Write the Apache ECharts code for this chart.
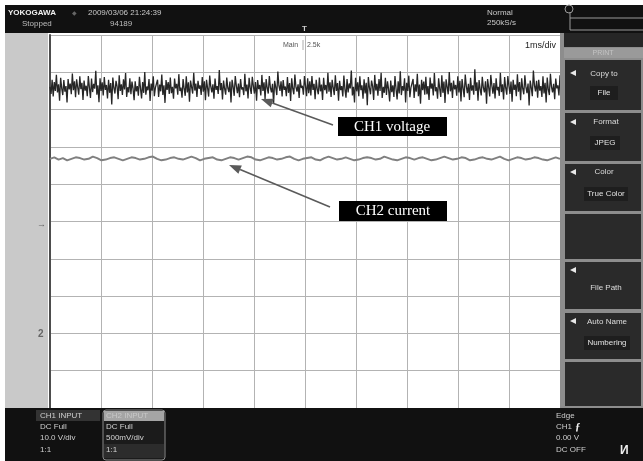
<!DOCTYPE html>
<html>
<head>
<meta charset="utf-8">
<script src="https://cdn.jsdelivr.net/npm/echarts@6.0.0/dist/echarts.min.js"></script>
<style>
html,body{margin:0;padding:0;background:#fff;}
#c{width:643px;height:461px;}
</style>
</head>
<body>
<div id="c"></div>
<script>
// Time axis: 1 ms/div, 10 divisions, trigger at centre
var timeTicks = [-5,-4,-3,-2,-1,0,1,2,3,4,5];
var ch1Voltage = [
36.1,34.2,38.0,33.5,37.4,35.0,39.3,34.6,36.8,32.4,38.5,35.7,33.9,37.9,34.8,36.3,31.9,38.2,35.4,37.0,
34.1,39.7,35.2,37.6,33.3,38.1,36.0,34.0,38.9,35.5,37.2,32.6,37.8,35.1,36.4,33.6,39.0,35.9,33.1,38.3,
34.7,36.9,35.6,40.4,34.0,36.5,32.0,38.4,35.0,37.3,33.8,38.7,35.3,36.6,33.0,38.0,34.5,37.1,31.4,38.6,
35.8,34.3,37.7,36.2,32.8,39.2,35.0,36.8,33.9,38.1,35.4,39.8,33.4,36.0,34.6,38.4,34.1,37.5,35.6,32.5,
37.6,34.9,36.3,33.7,38.8,35.7,33.0,37.4,34.5,40.1,34.0,36.2,35.2,38.2,32.3,37.0,35.1,38.9,33.6,35.9,
35.5,38.0,33.4,36.7,34.9,39.4,33.9,36.5,31.8,37.9,35.3,37.4,34.2,38.6,34.4,36.1,32.9,38.3,35.7,36.9,
34.0,39.5,35.0,35.9,33.2,38.2,35.6,33.7,38.9,34.6,37.3,32.1,37.8,36.0,34.3,39.9,35.1,37.0,33.4,37.7,
35.6,36.5,33.9,38.7,34.8,37.6,32.5,38.0,35.8,33.5,39.1,36.2,34.6,36.8,32.9,38.3,35.3,36.3,34.2,40.6,
35.2,37.1,32.7,37.8,35.6,34.0,38.6,35.8,34.7,37.5,31.9,38.0,36.1,33.7,39.0,36.4,34.4,37.0,33.3,38.2,
35.4,36.0,33.9,39.6,34.9,36.7,33.0,38.5,35.9,34.2,38.8,36.3,34.3,37.4,32.4,37.9,35.5,36.6,33.8,39.3,
35.0,37.3,32.8,38.2,35.8,34.3,39.0,35.9,34.6,36.9,31.5,37.7,36.0,33.9,40.2,36.4,35.0,37.6,33.5,37.9,
35.3,36.2,33.6,38.7,34.5,37.1,32.3,38.4,35.6,34.1,39.4,36.0,34.8,36.8,33.1,38.1,35.8,36.4,34.0,39.0,
36.3,33.6,38.4,34.4,37.6,33.8,39.0,35.3,36.9,32.8,38.0,35.5,34.1,38.6,34.9,36.7,32.6,38.5,35.2,36.6,
34.3,39.9,34.8,37.3,33.4,38.0,35.8,33.9,39.2,35.0,37.1,32.4,37.7,35.2,36.3,33.5,39.1,35.5,33.2,38.2,
34.6,37.0,35.7,40.5,33.8,36.1,31.9,38.5,34.9,37.3,33.6,38.9,35.2,36.5,32.9,38.1,34.3,37.2,31.2,38.7,
35.9,34.1,37.8,36.3,32.6,39.3,35.1,36.9,33.7,38.2,35.0,39.9,33.1,36.1,34.5,38.5,33.9,37.6,35.4,32.2,
37.8,34.7,36.5,33.4,39.0,35.6,32.7,37.6,34.3,40.3,33.9,36.3,35.1,38.4,31.9,37.2,35.0,39.1,33.3,35.9,
35.6,38.2,33.1,36.8,34.8,39.6,33.6,36.7,31.6,38.0,35.2,37.5,34.0,38.8,34.1,36.3,32.6,38.6,35.6,37.0,
33.8,39.8,34.9,36.0,32.9,38.4,35.7,33.4,39.2,34.5,37.5,31.8,38.1,36.1,34.1,40.1,34.9,37.2,33.1,37.8,
35.4,36.6,33.7,38.9,34.6,37.7,32.2,38.2,35.7,33.3,39.4,36.3,34.4,36.9,32.6,38.5,35.1,36.5,34.0,40.8,
35.0,37.3,32.4,37.9,35.5,33.8,38.8,35.9,34.6,37.6,31.6,38.2,36.0,33.5,39.3,36.5,34.3,37.1,33.0,38.4,
35.2,36.1,33.7,39.9,34.7,36.8,32.7,38.7,35.8,34.0,39.0,36.4,34.2,37.5,32.1,38.0,35.3,36.7,33.6,39.5,
34.8,37.4,32.5,38.4,35.6,34.1,39.2,36.0,34.4,37.0,31.1,37.8,35.9,33.6,40.5,36.5,34.9,37.7,33.2,38.0,
35.1,36.3,33.4,38.9,34.3,37.2,31.9,38.6,35.4,33.9,39.6,36.1,34.6,36.9,32.8,38.3,35.7,36.5,33.8,39.2
];
// CH2 current-probe output (V), 500 mV/div
var ch2Current = [
2.34,2.36,2.33,2.35,2.32,2.34,2.36,2.35,2.33,2.34,2.37,2.35,2.32,2.33,2.35,2.36,2.34,2.32,2.34,2.36,
2.35,2.33,2.34,2.36,2.37,2.34,2.32,2.33,2.35,2.36,2.34,2.33,2.35,2.37,2.35,2.32,2.34,2.35,2.36,2.33,
2.32,2.34,2.36,2.35,2.33,2.35,2.37,2.36,2.33,2.32,2.34,2.36,2.35,2.33,2.34,2.36,2.37,2.34,2.32,2.34,
2.35,2.36,2.33,2.32,2.35,2.37,2.35,2.33,2.34,2.36,2.34,2.32,2.33,2.35,2.36,2.35,2.33,2.34,2.37,2.35,
2.33,2.32,2.34,2.36,2.35,2.33,2.35,2.36,2.34,2.32,2.33,2.35,2.37,2.35,2.33,2.34,2.36,2.35,2.32,2.33,
2.35,2.36,2.34,2.33,2.35,2.37,2.34,2.32,2.34,2.36,2.35,2.33,2.34,2.36,2.35,2.33,2.32,2.34,2.36,2.34
];
var ch1Label = "CH1 voltage";
var ch2Label = "CH2 current";

function toPairs(vals){
  var t0 = timeTicks[0], t1 = timeTicks[timeTicks.length-1];
  var n = vals.length;
  return vals.map(function(v,i){ return [t0 + (t1-t0)*i/(n-1), v]; });
}

var UI = '"Liberation Sans", Arial, sans-serif';
var SERIF = '"Liberation Serif", "Times New Roman", serif';
function txt(x,y,s,size,color,opts){
  opts = opts || {};
  return {type:'text', x:x, y:y, z:opts.z||50, silent:true,
    style:{text:s, fill:color, font:(opts.weight||'normal')+' '+size+'px '+(opts.family||UI),
      textAlign:opts.align||'left', textVerticalAlign:'middle'}};
}
function rect(x,y,w,h,fill,opts){
  opts = opts || {};
  return {type:'rect', z:opts.z||10, silent:true, shape:{x:x,y:y,width:w,height:h,r:opts.r||0},
    style:{fill:fill, stroke:opts.stroke||null, lineWidth:opts.lw||0}};
}
function tri(x,y){
  return {type:'polygon', z:50, silent:true, shape:{points:[[x,y+3],[x+6,y],[x+6,y+6]]}, style:{fill:'#e8e8e8'}};
}
function arrow(x0,y0,x1,y1){
  var dx=x1-x0, dy=y1-y0, L=Math.sqrt(dx*dx+dy*dy), ux=dx/L, uy=dy/L;
  var bx=x1-12*ux, by=y1-12*uy, px=-uy*4.5, py=ux*4.5;
  return [
    {type:'line', z:60, silent:true, shape:{x1:x0,y1:y0,x2:bx,y2:by}, style:{stroke:'#5a5a5a', lineWidth:1.6}},
    {type:'polygon', z:60, silent:true, shape:{points:[[x1,y1],[bx+px,by+py],[bx-px,by-py]]}, style:{fill:'#5a5a5a'}}
  ];
}

var g = [];
// frame pieces
g.push(rect(5,5,638,28,'#111'));
g.push(rect(5,33,43,375,'#c9c9c9'));
g.push(rect(5,408,638,53,'#111'));
g.push(rect(560,33,83,375,'#8d8d8d'));
g.push(rect(564,33,79,14,'#262626'));
g.push(rect(564,48,79,10,'#9a9a9a'));
g.push(txt(603,53,'PRINT',7,'#c4c4c4',{align:'center'}));
var boxes = [[60,50],[113,48],[164,47],[214,45],[262,47],[313,46],[362,44]];
boxes.forEach(function(b){ g.push(rect(565,b[0],76,b[1],'#2a2a2a')); });
// right panel labels
g.push(tri(570,70)); g.push(txt(604,74,'Copy to',8,'#dcdcdc',{align:'center'}));
g.push(rect(590,86,28,14,'#1e1e1e')); g.push(txt(604,93,'File',8,'#e0e0e0',{align:'center'}));
g.push(tri(570,119)); g.push(txt(606,122,'Format',8,'#dcdcdc',{align:'center'}));
g.push(rect(590,136,30,14,'#1e1e1e')); g.push(txt(605,143,'JPEG',8,'#e0e0e0',{align:'center'}));
g.push(tri(570,169)); g.push(txt(604,172,'Color',8,'#dcdcdc',{align:'center'}));
g.push(rect(584,187,44,14,'#1e1e1e')); g.push(txt(606,194,'True Color',8,'#e0e0e0',{align:'center'}));
g.push(tri(570,267)); g.push(txt(606,288,'File Path',8,'#dcdcdc',{align:'center'}));
g.push(tri(570,318)); g.push(txt(607,322,'Auto Name',8,'#dcdcdc',{align:'center'}));
g.push(rect(584,336,46,14,'#1e1e1e')); g.push(txt(607,343,'Numbering',8,'#e0e0e0',{align:'center'}));
// top right
g.push({type:'circle', z:50, silent:true, shape:{cx:569,cy:9,r:4}, style:{fill:null, stroke:'#9a9a9a', lineWidth:1}});
g.push(rect(570,18,75,12,null,{stroke:'#9a9a9a',lw:1,z:50}));
g.push({type:'line', z:50, silent:true, shape:{x1:570,y1:12,x2:570,y2:18}, style:{stroke:'#9a9a9a', lineWidth:1}});
// header texts
g.push(txt(8,13,'YOKOGAWA',8,'#f0f0f0',{weight:'bold'}));
g.push(txt(72,13,'\u25C6',6,'#666'));
g.push(txt(88,13,'2009/03/06 21:24:39',8,'#c8c8c8'));
g.push(txt(22,24,'Stopped',8,'#bdbdbd'));
g.push(txt(110,24,'94189',8,'#bdbdbd'));
g.push(txt(487,13,'Normal',8,'#c8c8c8'));
g.push(txt(487,23,'250kS/s',8,'#c8c8c8'));
g.push(txt(302,29,'T',8,'#cfcfcf',{weight:'bold'}));
// in-grid texts
g.push(txt(283,45,'Main',7,'#555'));
g.push({type:'line', z:50, silent:true, shape:{x1:303,y1:40,x2:303,y2:50}, style:{stroke:'#aaa', lineWidth:1}});
g.push(txt(307,45,'2.5k',7,'#555'));
g.push(txt(556,46,'1ms/div',9,'#222',{align:'right'}));
// ground markers
g.push(txt(37,225,'\u2192',9,'#666'));
g.push(txt(38,334,'2',10,'#666',{weight:'bold'}));
// bottom bar
g.push(rect(36,410,64,11,'#333'));
g.push(txt(40,416,'CH1 INPUT',8,'#cfcfcf'));
g.push(txt(40,427,'DC Full',8,'#cfcfcf'));
g.push(txt(40,438,'10.0 V/div',8,'#cfcfcf'));
g.push(txt(40,450,'1:1',8,'#cfcfcf'));
g.push(rect(103,410,62,50,'#1b1b1b',{stroke:'#8a8a8a',lw:1,r:3}));
g.push(rect(104,411,60,10,'#a5a5a5'));
g.push(txt(106,416,'CH2 INPUT',8,'#c8c8c8'));
g.push(txt(106,427,'DC Full',8,'#d4d4d4'));
g.push(txt(106,438,'500mV/div',8,'#d4d4d4'));
g.push(rect(104,444,60,14,'#2c2c2c'));
g.push(txt(106,450,'1:1',8,'#d4d4d4'));
g.push(txt(556,416,'Edge',8,'#cfcfcf'));
g.push(txt(556,427,'CH1',8,'#cfcfcf'));
g.push(txt(575,427,'\u0192',11,'#eee',{weight:'bold',family:SERIF}));
g.push(txt(556,438,'0.00 V',8,'#cfcfcf'));
g.push(txt(556,450,'DC OFF',8,'#cfcfcf'));
g.push(txt(620,451,'\u0418',12,'#eee',{weight:'bold'}));
// annotations
g = g.concat(arrow(333,125,261,99));
g = g.concat(arrow(330,207,229,165));
g.push(rect(338,117,109,19,'#000',{z:70}));
g.push(txt(392,127,ch1Label,15,'#fff',{align:'center',family:SERIF,z:71}));
g.push(rect(339,201,108,20,'#000',{z:70}));
g.push(txt(393,211,ch2Label,15,'#fff',{align:'center',family:SERIF,z:71}));

var chart = echarts.init(document.getElementById('c'), null, {renderer:'canvas'});
chart.setOption({
  animation:false,
  backgroundColor:'#fff',
  grid:{left:50, top:35, width:510, height:373, containLabel:false},
  xAxis:{type:'value', min:timeTicks[0], max:timeTicks[timeTicks.length-1], interval:1,
    axisLabel:{show:false}, axisTick:{show:false}, axisLine:{show:false},
    splitLine:{show:true, lineStyle:{color:'#b3b3b3', width:1}}},
  yAxis:[
    {type:'value', min:-50, max:50, interval:10, axisLabel:{show:false}, axisTick:{show:false},
      axisLine:{show:true, onZero:false, lineStyle:{color:'#4d4d4d', width:2}},
      splitLine:{show:true, lineStyle:{color:'#b3b3b3', width:1}}},
    {type:'value', min:-1, max:4, interval:0.5, show:false, splitLine:{show:false}}
  ],
  series:[
    {name:ch1Label, type:'line', xAxisIndex:0, yAxisIndex:0, data:toPairs(ch1Voltage), showSymbol:false,
      sampling:null, lineStyle:{color:'#262626', width:1.3}, z:5},
    {name:ch2Label, type:'line', xAxisIndex:0, yAxisIndex:1, data:toPairs(ch2Current), showSymbol:false,
      lineStyle:{color:'#808080', width:2}, z:5}
  ],
  graphic:g
});
</script>
</body>
</html>
